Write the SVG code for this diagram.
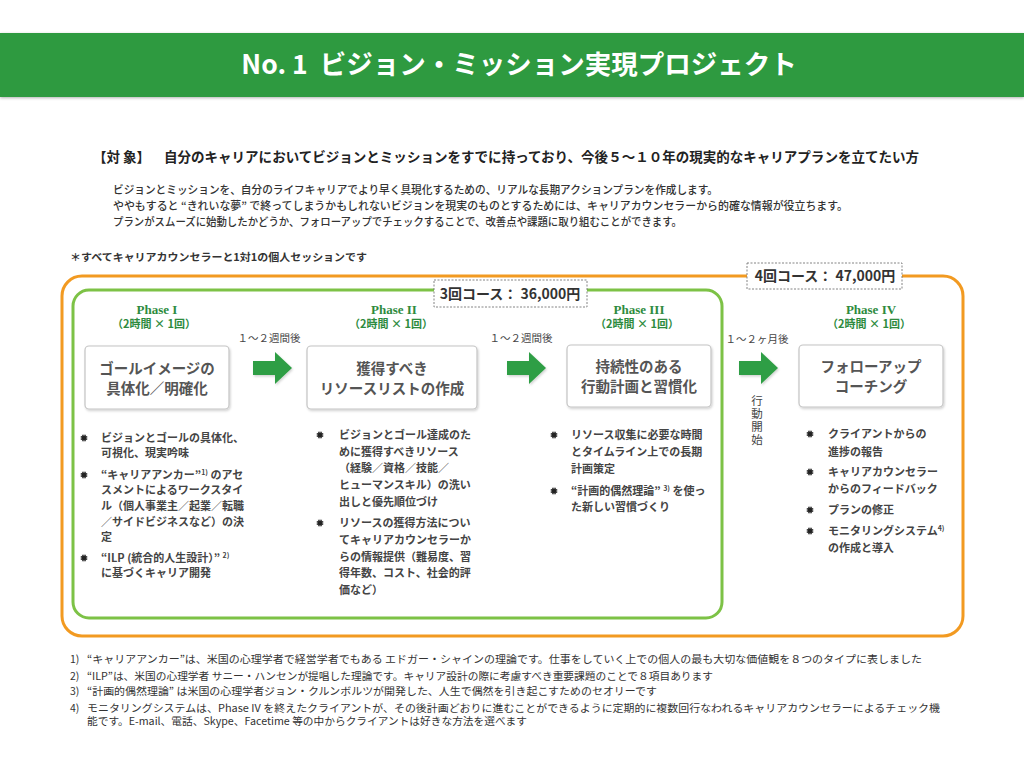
<svg xmlns="http://www.w3.org/2000/svg" width="1024" height="768" viewBox="0 0 1024 768">
<style>
  text { font-family: "Noto Sans CJK JP", "Noto Sans", sans-serif; }
  .title { font-size: 26.5px; font-weight: 700; fill: #ffffff; }
  .target { font-size: 13.5px; font-weight: 700; fill: #222; }
  .desc { font-size: 11px; font-weight: 500; fill: #333; }
  .note { font-size: 10.5px; font-weight: 700; fill: #333; }
  .phase { font-family: "Liberation Serif", "DejaVu Serif", serif; font-size: 13px; font-weight: 700; fill: #2e8b3e; }
  .phasesub { font-size: 11px; font-weight: 700; fill: #2e8b3e; }
  .boxtxt { font-size: 14.5px; font-weight: 700; fill: #555; }
  .box { fill: #ffffff; stroke: #c4c4c4; stroke-width: 1.2; }
  .bul { font-size: 11px; font-weight: 700; fill: #444; }
  .star { fill: #222; }
  .lbl { font-size: 10.5px; fill: #444; }
  .vlbl { font-size: 11.5px; fill: #444; writing-mode: vertical-rl; letter-spacing: 1.5px; }
  .course { font-size: 14px; font-weight: 700; fill: #333; }
  .cbox { fill: #ffffff; stroke: #777; stroke-width: 0.9; stroke-dasharray: 2 1.5; }
  .arrow { fill: #2f9e44; }
  .foot { font-size: 10.5px; fill: #333; }
  .sup { font-size: 7px; }
</style>
<defs>
  <filter id="sh" x="-10%" y="-10%" width="130%" height="140%">
    <feDropShadow dx="1" dy="1.5" stdDeviation="1.2" flood-color="#000" flood-opacity="0.18"/>
  </filter>
  <filter id="hsh" x="0" y="-20%" width="100%" height="140%">
    <feDropShadow dx="0" dy="1" stdDeviation="1.5" flood-color="#000" flood-opacity="0.3"/>
  </filter>
  <path id="star" class="star" d="M4.2,0 L2.3,0.62 L3.64,2.1 L1.7,1.7 L2.1,3.64 L0.62,2.3 L0,4.2 L-0.62,2.3 L-2.1,3.64 L-1.7,1.7 L-3.64,2.1 L-2.3,0.62 L-4.2,0 L-2.3,-0.62 L-3.64,-2.1 L-1.7,-1.7 L-2.1,-3.64 L-0.62,-2.3 L0,-4.2 L0.62,-2.3 L2.1,-3.64 L1.7,-1.7 L3.64,-2.1 L2.3,-0.62 Z"/>
</defs>

<rect x="0" y="0" width="1024" height="768" fill="#ffffff"/>

<!-- header -->
<g id="header">
  <rect x="0" y="33" width="1024" height="64" fill="#2f9a41" filter="url(#hsh)"/>
  <text class="title" x="519" y="74" text-anchor="middle" xml:space="preserve">No. 1  ビジョン・ミッション実現プロジェクト</text>
</g>

<!-- intro -->
<g id="intro">
  <text class="target" x="93" y="162">【対 象】</text>
  <text class="target" x="164" y="162" textLength="755" lengthAdjust="spacingAndGlyphs">自分のキャリアにおいてビジョンとミッションをすでに持っており、今後５～１０年の現実的なキャリアプランを立てたい方</text>
  <text class="desc" x="113" y="194" textLength="605" lengthAdjust="spacingAndGlyphs">ビジョンとミッションを、自分のライフキャリアでより早く具現化するための、リアルな長期アクションプランを作成します。</text>
  <text class="desc" x="113" y="210" textLength="735" lengthAdjust="spacingAndGlyphs">ややもすると “きれいな夢” で終ってしまうかもしれないビジョンを現実のものとするためには、キャリアカウンセラーから的確な情報が役立ちます。</text>
  <text class="desc" x="113" y="226" textLength="569" lengthAdjust="spacingAndGlyphs">プランがスムーズに始動したかどうか、フォローアップでチェックすることで、改善点や課題に取り組むことができます。</text>
  <text class="note" x="70" y="261" textLength="297" lengthAdjust="spacingAndGlyphs">＊すべてキャリアカウンセラーと1対1の個人セッションです</text>
</g>

<!-- course frames -->
<g id="course4">
  <rect x="62" y="276" width="901" height="360" rx="20" fill="none" stroke="#f29a21" stroke-width="3"/>
  <rect class="cbox" x="747" y="263" width="155" height="26"/>
  <text class="course" x="825" y="281" text-anchor="middle">4回コース： 47,000円</text>
</g>
<g id="course3">
  <rect x="73" y="290" width="649" height="328" rx="16" fill="none" stroke="#7dc246" stroke-width="3"/>
  <rect class="cbox" x="434" y="280" width="153" height="27"/>
  <text class="course" x="510" y="299" text-anchor="middle">3回コース： 36,000円</text>
</g>

<!-- connectors -->
<g id="connectors">
  <g filter="url(#sh)">
    <path class="arrow" d="M253,361 H275 V352 L292,368 L275,384 V375 H253 Z"/>
    <path class="arrow" d="M507,361 H529 V352 L546,368 L529,384 V375 H507 Z"/>
    <path class="arrow" d="M739,361 H761 V352 L778,368 L761,384 V375 H739 Z"/>
  </g>
  <text class="lbl" x="269" y="342" text-anchor="middle">１～２週間後</text>
  <text class="lbl" x="521" y="342" text-anchor="middle">１～２週間後</text>
  <text class="lbl" x="757" y="343" text-anchor="middle">１～２ヶ月後</text>
  <text class="vlbl" x="757" y="395">行動開始</text>
</g>

<!-- Phase I -->
<g id="phase1">
  <text class="phase" x="157" y="314" text-anchor="middle">Phase I</text>
  <text class="phasesub" x="154" y="328" text-anchor="middle">（2時間 × 1回）</text>
  <rect class="box" x="85" y="346" width="144" height="63" rx="4" filter="url(#sh)"/>
  <text class="boxtxt" x="157" y="374" text-anchor="middle">ゴールイメージの</text>
  <text class="boxtxt" x="157" y="394" text-anchor="middle">具体化／明確化</text>
  <use href="#star" x="84" y="438"/>
  <text class="bul" x="101" y="442">ビジョンとゴールの具体化、</text>
  <text class="bul" x="101" y="457">可視化、現実吟味</text>
  <use href="#star" x="84" y="475"/>
  <text class="bul" x="101" y="479">“キャリアアンカー”<tspan class="sup" dy="-4">1)</tspan><tspan dy="4"> のアセ</tspan></text>
  <text class="bul" x="101" y="494">スメントによるワークスタイ</text>
  <text class="bul" x="101" y="510">ル（個人事業主／起業／転職</text>
  <text class="bul" x="101" y="526">／サイドビジネスなど）の決</text>
  <text class="bul" x="101" y="541">定</text>
  <use href="#star" x="84" y="558"/>
  <text class="bul" x="101" y="562">“ILP (統合的人生設計）” <tspan class="sup" dy="-4">2)</tspan></text>
  <text class="bul" x="101" y="577">に基づくキャリア開発</text>
</g>

<!-- Phase II -->
<g id="phase2">
  <text class="phase" x="394" y="314" text-anchor="middle">Phase II</text>
  <text class="phasesub" x="391" y="328" text-anchor="middle">（2時間 × 1回）</text>
  <rect class="box" x="307" y="346" width="170" height="63" rx="4" filter="url(#sh)"/>
  <text class="boxtxt" x="392" y="374" text-anchor="middle">獲得すべき</text>
  <text class="boxtxt" x="392" y="394" text-anchor="middle">リソースリストの作成</text>
  <use href="#star" x="320" y="435"/>
  <text class="bul" x="339" y="439">ビジョンとゴール達成のた</text>
  <text class="bul" x="339" y="456">めに獲得すべきリソース</text>
  <text class="bul" x="339" y="472">（経験／資格／技能／</text>
  <text class="bul" x="339" y="489">ヒューマンスキル）の洗い</text>
  <text class="bul" x="339" y="506">出しと優先順位づけ</text>
  <use href="#star" x="320" y="523"/>
  <text class="bul" x="339" y="527">リソースの獲得方法につい</text>
  <text class="bul" x="339" y="544">てキャリアカウンセラーか</text>
  <text class="bul" x="339" y="561">らの情報提供（難易度、習</text>
  <text class="bul" x="339" y="577">得年数、コスト、社会的評</text>
  <text class="bul" x="339" y="594">価など）</text>
</g>

<!-- Phase III -->
<g id="phase3">
  <text class="phase" x="639" y="314" text-anchor="middle">Phase III</text>
  <text class="phasesub" x="637" y="328" text-anchor="middle">（2時間 × 1回）</text>
  <rect class="box" x="567" y="345" width="144" height="62" rx="4" filter="url(#sh)"/>
  <text class="boxtxt" x="639" y="372" text-anchor="middle">持続性のある</text>
  <text class="boxtxt" x="639" y="392" text-anchor="middle">行動計画と習慣化</text>
  <use href="#star" x="554" y="435"/>
  <text class="bul" x="571" y="439">リソース収集に必要な時間</text>
  <text class="bul" x="571" y="456">とタイムライン上での長期</text>
  <text class="bul" x="571" y="473">計画策定</text>
  <use href="#star" x="554" y="491"/>
  <text class="bul" x="571" y="495">“計画的偶然理論” <tspan class="sup" dy="-4">3)</tspan><tspan dy="4"> を使っ</tspan></text>
  <text class="bul" x="571" y="511">た新しい習慣づくり</text>
</g>

<!-- Phase IV -->
<g id="phase4">
  <text class="phase" x="871" y="314" text-anchor="middle">Phase IV</text>
  <text class="phasesub" x="869" y="328" text-anchor="middle">（2時間 × 1回）</text>
  <rect class="box" x="799" y="345" width="144" height="62" rx="4" filter="url(#sh)"/>
  <text class="boxtxt" x="871" y="372" text-anchor="middle">フォローアップ</text>
  <text class="boxtxt" x="871" y="392" text-anchor="middle">コーチング</text>
  <use href="#star" x="810" y="434"/>
  <text class="bul" x="828" y="438">クライアントからの</text>
  <text class="bul" x="828" y="456">進捗の報告</text>
  <use href="#star" x="810" y="472"/>
  <text class="bul" x="828" y="476">キャリアカウンセラー</text>
  <text class="bul" x="828" y="493">からのフィードバック</text>
  <use href="#star" x="810" y="510"/>
  <text class="bul" x="828" y="514">プランの修正</text>
  <use href="#star" x="810" y="531"/>
  <text class="bul" x="828" y="535">モニタリングシステム<tspan class="sup" dy="-4">4)</tspan></text>
  <text class="bul" x="828" y="552">の作成と導入</text>
</g>

<!-- footnotes -->
<g id="footnotes">
  <text class="foot" x="70" y="663">1)</text>
  <text class="foot" x="87" y="663" textLength="835" lengthAdjust="spacingAndGlyphs">“キャリアアンカー”は、米国の心理学者で経営学者でもある エドガー・シャインの理論です。仕事をしていく上での個人の最も大切な価値観を８つのタイプに表しました</text>
  <text class="foot" x="70" y="680">2)</text>
  <text class="foot" x="87" y="680" textLength="626" lengthAdjust="spacingAndGlyphs">“ILP”は、米国の心理学者 サニー・ハンセンが提唱した理論です。キャリア設計の際に考慮すべき重要課題のことで８項目あります</text>
  <text class="foot" x="70" y="695">3)</text>
  <text class="foot" x="87" y="695" textLength="570" lengthAdjust="spacingAndGlyphs">“計画的偶然理論” は米国の心理学者ジョン・クルンボルツが開発した、人生で偶然を引き起こすためのセオリーです</text>
  <text class="foot" x="70" y="712">4)</text>
  <text class="foot" x="87" y="712" textLength="853" lengthAdjust="spacingAndGlyphs">モニタリングシステムは、Phase IV を終えたクライアントが、その後計画どおりに進むことができるように定期的に複数回行なわれるキャリアカウンセラーによるチェック機</text>
  <text class="foot" x="87" y="725" textLength="440" lengthAdjust="spacingAndGlyphs">能です。E-mail、電話、Skype、Facetime 等の中からクライアントは好きな方法を選べます</text>
</g>
</svg>
